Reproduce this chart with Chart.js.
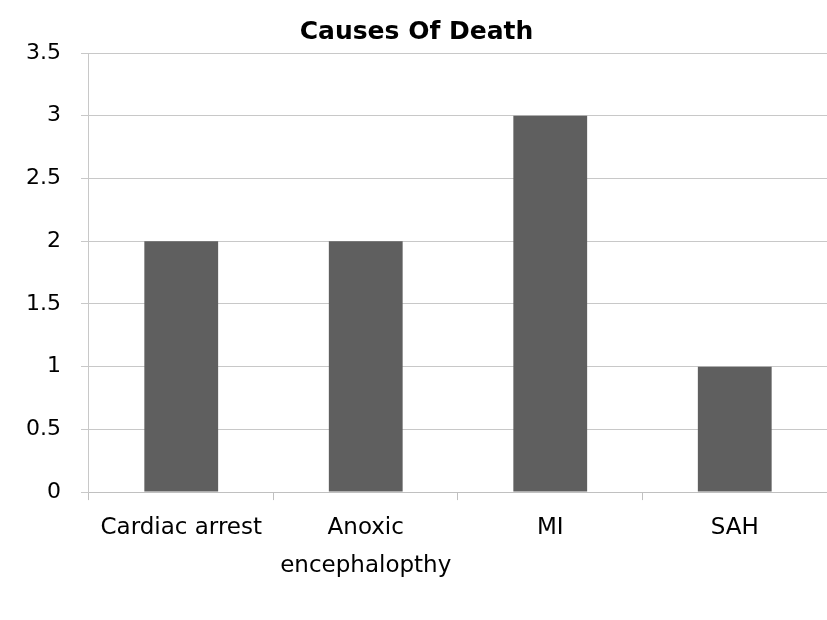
<!DOCTYPE html>
<html>
<head>
<meta charset="utf-8">
<script src="https://cdn.jsdelivr.net/npm/chart.js@4"></script>
<style>
  body { margin: 0; background: #fff; }
</style>
</head>
<body>
<canvas id="myChart" width="827" height="620"></canvas>
<script>
const causes = ['Cardiac arrest', ['Anoxic', 'encephalopthy'], 'MI', 'SAH'];
const deaths = [2, 2, 3, 1];
const yTicks = [0, 0.5, 1, 1.5, 2, 2.5, 3, 3.5];

const ctx = document.getElementById('myChart');

new Chart(ctx, {
  type: 'bar',
  data: {
    labels: causes,
    datasets: [{
      label: 'Causes Of Death',
      data: deaths,
      backgroundColor: '#5f5f5f',
      borderWidth: 0,
      categoryPercentage: 1,
      barPercentage: 0.4
    }]
  },
  options: {
    responsive: false,
    animation: false,
    layout: {
      padding: { left: 6, right: 0, top: 0, bottom: 26 }
    },
    plugins: {
      legend: { display: false },
      tooltip: { enabled: false },
      title: {
        display: true,
        text: 'Causes Of Death',
        color: '#000',
        font: { family: 'DejaVu Sans', size: 25, weight: 'bold' },
        padding: { top: 17, bottom: 6 }
      }
    },
    scales: {
      x: {
        offset: true,
        grid: {
          offset: true,
          drawOnChartArea: false,
          tickLength: 8,
          color: '#c0c0c0'
        },
        border: { color: '#c0c0c0' },
        ticks: {
          color: '#000',
          padding: 9,
          font: { family: 'DejaVu Sans', size: 23, lineHeight: 1.65 }
        }
      },
      y: {
        min: 0,
        max: yTicks[yTicks.length - 1],
        afterBuildTicks: axis => {
          axis.ticks = yTicks.map(v => ({ value: v }));
        },
        grid: {
          tickLength: 8,
          color: '#c8c8c8'
        },
        border: { color: '#c8c8c8' },
        ticks: {
          color: '#000',
          padding: 20,
          font: { family: 'DejaVu Sans', size: 22 },
          callback: v => String(v)
        }
      }
    }
  }
});
</script>
</body>
</html>
